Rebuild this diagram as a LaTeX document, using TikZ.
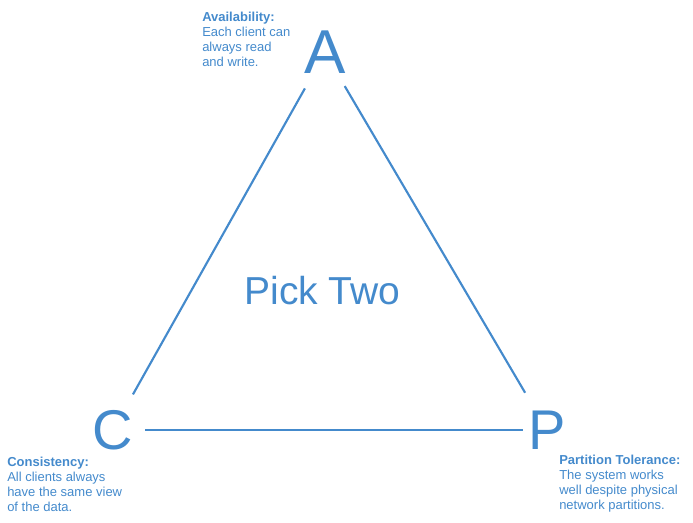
\documentclass[tikz,border=0pt]{standalone}
\usepackage{fontspec}
\setmainfont{Liberation Sans}
\usepackage{tikz}
\usetikzlibrary{positioning}
\definecolor{capblue}{RGB}{68,138,204}
\tikzset{
    letter/.style={text=capblue, inner sep=9pt},
    edge/.style={draw=capblue, line width=1.6pt},
    note/.style={text=capblue, anchor=north west, inner sep=0pt, align=left, font=\fontsize{9.75}{11.25}\selectfont}
}
\begin{document}
\begin{tikzpicture} [x=0.75pt, y=-0.75pt]
    \useasboundingbox (0,0) rectangle (693,522);

    % Corners
    \node[letter, font=\fontsize{46.5}{50}\selectfont] (A) at (325,52.5) {A};
    \node[letter, font=\fontsize{42}{46}\selectfont] (C) at (113,430) {C};
    \node[letter, font=\fontsize{42}{46}\selectfont] (P) at (547,430) {P};

    % Middle
    \node[text=capblue, font=\fontsize{29.25}{32}\selectfont] (pick) at (322.5,291) {Pick Two};

    % Notes
    \node[note] (avail) at (202,12) {\textbf{Availability:}\\Each client can\\always read\\and write.};
    \node[note] (consist) at (7,457) {\textbf{Consistency:}\\All clients always\\have the same view\\of the data.};
    \node[note] (partit) at (559,455) {\textbf{Partition Tolerance:}\\The system works\\well despite physical\\network partitions.};

    % Edges
    \draw[edge, shorten <=2pt, shorten >=3pt] (A) -- (C);
    \draw[edge, shorten >=5pt] (A) -- (P);
    \draw[edge, shorten >=-5pt] (C) -- (P);
\end{tikzpicture}
\end{document}
